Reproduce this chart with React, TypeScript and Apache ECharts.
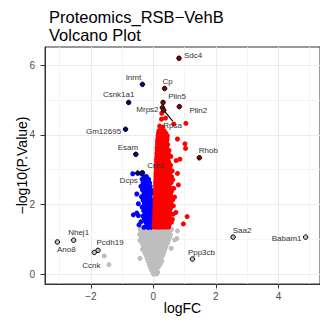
import { useEffect, useRef } from "react";
import * as echarts from "echarts";

// ---- data (logFC, -log10(P.Value)) ----
const upPoints: [number, number][] = [
  [0.18, 4.12], [0.26, 4.12], [0.34, 4.12],
  [0.16, 4.05], [0.24, 4.05], [0.31, 4.05], [0.4, 4.05],
  [0.15, 3.97], [0.22, 3.97], [0.3, 3.97], [0.38, 3.97], [0.45, 3.97],
  [0.14, 3.88], [0.21, 3.88], [0.29, 3.88], [0.36, 3.88], [0.44, 3.88], [0.77, 3.88],
  [0.13, 3.8], [0.2, 3.8], [0.28, 3.8], [0.35, 3.8], [0.42, 3.8],
  [0.13, 3.72], [0.21, 3.72], [0.29, 3.72], [0.37, 3.72], [0.46, 3.72], [1.01, 3.74],
  [0.12, 3.63], [0.2, 3.63], [0.27, 3.63], [0.35, 3.63], [0.43, 3.63], [1.03, 3.61],
  [0.12, 3.55], [0.19, 3.55], [0.26, 3.55], [0.34, 3.55], [0.41, 3.55], [0.5, 3.55],
  [0.11, 3.46], [0.18, 3.46], [0.26, 3.46], [0.33, 3.46], [0.4, 3.46], [0.48, 3.46],
  [0.11, 3.38], [0.18, 3.38], [0.25, 3.38], [0.32, 3.38], [0.39, 3.38], [0.47, 3.38], [0.56, 3.38],
  [0.1, 3.3], [0.17, 3.3], [0.24, 3.3], [0.31, 3.3], [0.38, 3.3], [0.46, 3.3], [0.85, 3.3],
  [0.1, 3.22], [0.17, 3.22], [0.24, 3.22], [0.32, 3.22], [0.4, 3.22], [0.49, 3.22], [0.73, 3.26],
  [0.09, 3.13], [0.16, 3.13], [0.23, 3.13], [0.3, 3.13], [0.37, 3.13], [0.45, 3.13], [0.55, 3.13],
  [0.09, 3.05], [0.16, 3.05], [0.23, 3.05], [0.3, 3.05], [0.38, 3.05], [0.46, 3.05], [0.53, 3.05],
  [0.09, 2.96], [0.15, 2.96], [0.22, 2.96], [0.29, 2.96], [0.36, 2.96], [0.43, 2.96], [0.51, 2.96], [0.6, 2.96],
  [0.08, 2.88], [0.15, 2.88], [0.22, 2.88], [0.29, 2.88], [0.36, 2.88], [0.44, 2.88], [0.52, 2.88], [0.77, 2.89],
  [0.08, 2.8], [0.14, 2.8], [0.21, 2.8], [0.28, 2.8], [0.35, 2.8], [0.42, 2.8], [0.5, 2.8], [0.58, 2.8],
  [0.08, 2.71], [0.14, 2.71], [0.21, 2.71], [0.28, 2.71], [0.35, 2.71], [0.43, 2.71], [0.52, 2.71], [0.62, 2.71],
  [0.07, 2.63], [0.14, 2.63], [0.2, 2.63], [0.27, 2.63], [0.34, 2.63], [0.41, 2.63], [0.49, 2.63], [0.57, 2.63],
  [0.07, 2.55], [0.13, 2.55], [0.2, 2.55], [0.27, 2.55], [0.34, 2.55], [0.42, 2.55], [0.5, 2.55], [0.8, 2.56],
  [0.07, 2.46], [0.13, 2.46], [0.19, 2.46], [0.26, 2.46], [0.33, 2.46], [0.4, 2.46], [0.48, 2.46], [0.56, 2.46], [0.65, 2.46],
  [0.06, 2.38], [0.13, 2.38], [0.19, 2.38], [0.26, 2.38], [0.33, 2.38], [0.41, 2.38], [0.49, 2.38], [0.58, 2.38],
  [0.06, 2.3], [0.12, 2.3], [0.19, 2.3], [0.25, 2.3], [0.32, 2.3], [0.39, 2.3], [0.47, 2.3], [0.55, 2.3],
  [0.06, 2.21], [0.12, 2.21], [0.18, 2.21], [0.25, 2.21], [0.32, 2.21], [0.4, 2.21], [0.48, 2.21], [0.57, 2.21], [0.68, 2.21],
  [0.05, 2.13], [0.12, 2.13], [0.18, 2.13], [0.24, 2.13], [0.31, 2.13], [0.38, 2.13], [0.46, 2.13], [0.54, 2.13], [0.62, 2.13],
  [0.05, 2.05], [0.11, 2.05], [0.18, 2.05], [0.24, 2.05], [0.31, 2.05], [0.39, 2.05], [0.47, 2.05], [0.56, 2.05],
  [0.05, 1.96], [0.11, 1.96], [0.17, 1.96], [0.24, 1.96], [0.3, 1.96], [0.37, 1.96], [0.45, 1.96], [0.53, 1.96], [0.64, 1.96],
  [0.05, 1.88], [0.11, 1.88], [0.17, 1.88], [0.23, 1.88], [0.3, 1.88], [0.38, 1.88], [0.46, 1.88], [0.55, 1.88],
  [0.04, 1.8], [0.1, 1.8], [0.17, 1.8], [0.23, 1.8], [0.29, 1.8], [0.36, 1.8], [0.44, 1.8], [0.52, 1.8], [0.72, 1.77],
  [0.04, 1.72], [0.1, 1.72], [0.16, 1.72], [0.23, 1.72], [0.3, 1.72], [0.37, 1.72], [0.45, 1.72], [0.54, 1.72], [0.63, 1.72],
  [0.04, 1.65], [0.1, 1.65], [0.16, 1.65], [0.22, 1.65], [0.29, 1.65], [0.36, 1.65], [0.43, 1.65], [0.51, 1.65], [1.08, 1.65],
  [0.04, 1.57], [0.1, 1.57], [0.16, 1.57], [0.22, 1.57], [0.29, 1.57], [0.36, 1.57], [0.44, 1.57], [0.53, 1.57], [0.61, 1.57],
  [0.03, 1.49], [0.09, 1.49], [0.15, 1.49], [0.22, 1.49], [0.28, 1.49], [0.35, 1.49], [0.42, 1.49], [0.5, 1.49], [0.58, 1.49],
  [0.03, 1.42], [0.09, 1.42], [0.15, 1.42], [0.21, 1.42], [0.28, 1.42], [0.35, 1.42], [0.43, 1.42], [0.51, 1.42], [0.96, 1.44],
  [0.03, 1.35], [0.09, 1.35], [0.15, 1.35], [0.21, 1.35], [0.27, 1.35], [0.34, 1.35], [0.41, 1.35], [0.49, 1.35],
  [0.26, 4.45], [0.39, 4.48], [0.27, 4.62], [0.65, 4.31], [1.04, 4.33], [0.2, 4.25], [0.3, 4.22],
];

const downPoints: [number, number][] = [
  [-0.66, 2.88], [-0.38, 2.88],
  [-0.3, 2.8], [-0.22, 2.8],
  [-0.36, 2.72], [-0.27, 2.72], [-0.15, 2.72],
  [-0.33, 2.62], [-0.24, 2.62], [-0.12, 2.62],
  [-0.4, 2.52], [-0.3, 2.52], [-0.2, 2.52], [-0.1, 2.52],
  [-0.35, 2.42], [-0.26, 2.42], [-0.17, 2.42], [-0.08, 2.42],
  [-0.53, 2.3], [-0.3, 2.32], [-0.22, 2.32], [-0.13, 2.32], [-0.06, 2.32],
  [-0.38, 2.22], [-0.27, 2.22], [-0.19, 2.22], [-0.1, 2.22],
  [-0.33, 2.12], [-0.24, 2.12], [-0.15, 2.12], [-0.06, 2.12],
  [-0.48, 2.02], [-0.29, 2.02], [-0.2, 2.02], [-0.11, 2.02], [-0.04, 2.02],
  [-0.36, 1.92], [-0.26, 1.92], [-0.17, 1.92], [-0.08, 1.92],
  [-0.31, 1.82], [-0.22, 1.82], [-0.13, 1.82], [-0.05, 1.82],
  [-0.53, 1.75], [-0.27, 1.74], [-0.18, 1.74], [-0.09, 1.74],
  [-0.64, 1.7], [-0.48, 1.68], [-0.33, 1.66], [-0.23, 1.66], [-0.12, 1.66], [-0.04, 1.66],
  [-0.29, 1.58], [-0.19, 1.58], [-0.09, 1.58],
  [-0.4, 1.5], [-0.25, 1.5], [-0.15, 1.5], [-0.06, 1.5],
  [-0.46, 1.41], [-0.21, 1.41], [-0.11, 1.41], [-0.03, 1.41],
  [-0.3, 1.34], [-0.17, 1.34], [-0.08, 1.34],
];

const nsPoints: [number, number][] = [
  [-0.42, 1.3], [-0.33, 1.3], [-0.24, 1.3], [-0.15, 1.3], [-0.06, 1.3], [0.03, 1.3], [0.12, 1.3], [0.21, 1.3], [0.3, 1.3], [0.39, 1.3], [0.48, 1.3], [0.58, 1.28],
  [-0.4, 1.22], [-0.31, 1.22], [-0.22, 1.22], [-0.13, 1.22], [-0.04, 1.22], [0.05, 1.22], [0.14, 1.22], [0.23, 1.22], [0.32, 1.22], [0.41, 1.22], [0.51, 1.22], [0.77, 1.24],
  [-0.44, 1.13], [-0.35, 1.13], [-0.26, 1.13], [-0.17, 1.13], [-0.08, 1.13], [0.01, 1.13], [0.1, 1.13], [0.19, 1.13], [0.28, 1.13], [0.37, 1.13], [0.46, 1.13], [0.55, 1.13],
  [-0.38, 1.05], [-0.29, 1.05], [-0.2, 1.05], [-0.11, 1.05], [-0.02, 1.05], [0.07, 1.05], [0.16, 1.05], [0.25, 1.05], [0.34, 1.05], [0.43, 1.05], [0.52, 1.05], [0.75, 1.02],
  [-0.43, 0.97], [-0.33, 0.96], [-0.24, 0.96], [-0.15, 0.96], [-0.06, 0.96], [0.03, 0.96], [0.12, 0.96], [0.21, 0.96], [0.3, 0.96], [0.39, 0.96], [0.48, 0.96], [0.68, 0.98],
  [-0.36, 0.88], [-0.27, 0.88], [-0.18, 0.88], [-0.09, 0.88], [0.0, 0.88], [0.09, 0.88], [0.18, 0.88], [0.27, 0.88], [0.36, 0.88], [0.45, 0.88],
  [-0.32, 0.79], [-0.23, 0.79], [-0.14, 0.79], [-0.05, 0.79], [0.04, 0.79], [0.13, 0.79], [0.22, 0.79], [0.31, 0.79], [0.4, 0.79], [0.57, 0.74],
  [-0.35, 0.71], [-0.26, 0.71], [-0.17, 0.71], [-0.08, 0.71], [0.01, 0.71], [0.1, 0.71], [0.19, 0.71], [0.28, 0.71], [0.37, 0.71],
  [-0.28, 0.62], [-0.19, 0.62], [-0.1, 0.62], [-0.01, 0.62], [0.08, 0.62], [0.17, 0.62], [0.26, 0.62], [0.34, 0.62],
  [-0.24, 0.54], [-0.15, 0.54], [-0.06, 0.54], [0.03, 0.54], [0.12, 0.54], [0.21, 0.54], [0.3, 0.54],
  [-0.2, 0.45], [-0.11, 0.45], [-0.02, 0.45], [0.07, 0.45], [0.16, 0.45], [0.25, 0.45], [-0.43, 0.45],
  [-0.17, 0.37], [-0.08, 0.37], [0.01, 0.37], [0.1, 0.37], [0.19, 0.37], [0.27, 0.37],
  [-0.13, 0.28], [-0.04, 0.28], [0.05, 0.28], [0.14, 0.28], [0.22, 0.28],
  [-0.1, 0.2], [-0.01, 0.2], [0.08, 0.2], [0.16, 0.2],
  [-0.06, 0.12], [0.03, 0.12], [0.11, 0.12],
  [-0.02, 0.05], [0.07, 0.05], [0.14, 0.05],
  [0.01, 0.0], [0.1, 0.0],
  [-1.57, 0.52], [-1.42, 0.27],
];

const geneNames = ["Sdc4", "Inmt", "Cp", "Csnk1a1", "Plin5", "Plin2", "Mrps2", "Rpsa", "Rhob", "Gm12695", "Esam", "Cnst", "Dcps", "Nhej1", "Ano8", "Pcdh19", "Ccnk", "Saa2", "Babam1", "Ppp3cb"];
const geneLogFC = [0.82, -0.35, 0.36, -0.79, 0.31, 0.83, 0.29, 0.33, 1.47, -0.89, -0.56, -0.35, -0.5, -2.55, -3.07, -1.77, -1.89, 2.55, 4.87, 1.25];
const geneNegLog10P = [6.2, 5.45, 5.33, 4.93, 4.93, 4.81, 4.78, 4.71, 3.34, 4.16, 3.44, 2.91, 2.9, 0.97, 0.92, 0.68, 0.62, 1.06, 1.06, 0.43];
const geneGroup = ["up", "down", "up", "down", "up", "up", "up", "up", "up", "down", "down", "down", "down", "ns", "ns", "ns", "ns", "ns", "ns", "ns"];

// label placement (pixel offsets from point to label centre)
const labelOffsets: Record<string, [number, number]> = {
  Sdc4: [14, -3], Inmt: [-9, -7], Cp: [3, -7], Csnk1a1: [-10, -8], Plin5: [14, -6],
  Plin2: [19, 4], Mrps2: [-15, 2], Rpsa: [9, 15], Rhob: [9, -7], Gm12695: [-22, 2],
  Esam: [-8, -7], Cnst: [13, -7], Dcps: [-9, 7], Nhej1: [5, -8], Ano8: [9, 8],
  Pcdh19: [12, -8], Ccnk: [-3, 13], Saa2: [9, -7], Babam1: [-19, 1], Ppp3cb: [9, -7],
};

const xMajorTicks = [-2, 0, 2, 4];
const yMajorTicks = [0, 2, 4, 6];
const xMinorTicks = [-3, -1, 1, 3, 5];
const yMinorTicks = [1, 3, 5];

const FONT = "'Liberation Sans', Arial, Helvetica, sans-serif";
const groupFill: Record<string, string> = { up: "#8B0000", down: "#00008B", ns: "#BEBEBE" };

export default function App() {
  const ref = useRef<HTMLDivElement>(null);
  useEffect(() => {
    if (!ref.current) return;
    const chart = echarts.init(ref.current, undefined, { renderer: "svg" });
    const minus = (v: number) => (v < 0 ? "\u2212" + Math.abs(v) : String(v));
    const gridLines = [
      ...xMinorTicks.map((v) => ({ xAxis: v, lineStyle: { color: "#F3F3F3", width: 0.8 } })),
      ...yMinorTicks.map((v) => ({ yAxis: v, lineStyle: { color: "#F3F3F3", width: 0.8 } })),
      ...xMajorTicks.map((v) => ({ xAxis: v, lineStyle: { color: "#EBEBEB", width: 1.1 } })),
      ...yMajorTicks.map((v) => ({ yAxis: v, lineStyle: { color: "#EBEBEB", width: 1.1 } })),
    ];
    const labeled = geneNames.map((n, i) => ({
      name: n,
      value: [geneLogFC[i], geneNegLog10P[i]],
      itemStyle: { color: groupFill[geneGroup[i]], borderColor: "#000", borderWidth: 1, opacity: 1 },
      labelLine: n === "Rpsa" ? { show: true, lineStyle: { color: "#000", width: 1.2 } } : { show: false },
    }));
    chart.setOption({
      animation: false,
      title: {
        text: "Proteomics_RSB\u2212VehB\nVolcano Plot",
        left: 44,
        top: 3,
        textStyle: { fontFamily: FONT, fontSize: 16.5, fontWeight: "normal", color: "#000", lineHeight: 18 },
      },
      grid: { left: 45, top: 47, width: 285, height: 237, show: true, borderColor: "#333333", borderWidth: 1, backgroundColor: "transparent" },
      xAxis: {
        type: "value",
        min: -3.466,
        max: 5.33,
        name: "logFC",
        nameLocation: "middle",
        nameGap: 17,
        nameMoveOverlap: false,
        nameTextStyle: { fontFamily: FONT, fontSize: 14, color: "#000", verticalAlign: "top" },
        axisLine: { show: true, onZero: false, lineStyle: { color: "#333333", width: 1 } },
        axisTick: { show: true, length: 4.5, customValues: xMajorTicks, lineStyle: { color: "#333333" } },
        axisLabel: { customValues: xMajorTicks, formatter: minus, fontFamily: FONT, fontSize: 10, color: "#4D4D4D", margin: 7 },
        splitLine: { show: false },
      },
      yAxis: {
        type: "value",
        min: -0.287,
        max: 6.523,
        name: "\u2212log10(P.Value)",
        nameLocation: "middle",
        nameGap: 16,
        nameMoveOverlap: false,
        nameTextStyle: { fontFamily: FONT, fontSize: 14, color: "#000" },
        axisLine: { show: true, onZero: false, lineStyle: { color: "#333333", width: 1 } },
        axisTick: { show: true, length: 4.5, customValues: yMajorTicks, lineStyle: { color: "#333333" } },
        axisLabel: { customValues: yMajorTicks, formatter: minus, fontFamily: FONT, fontSize: 10, color: "#4D4D4D", margin: 10 },
        splitLine: { show: false },
      },
      series: [
        {
          type: "scatter",
          data: [],
          silent: true,
          z: 0,
          markLine: { silent: true, z: 0, symbol: ["none", "none"], label: { show: false }, lineStyle: { type: "solid" }, data: gridLines },
        },
        { type: "scatter", data: nsPoints, symbolSize: 5, itemStyle: { color: "#BEBEBE", opacity: 1 }, z: 2, silent: true },
        { type: "scatter", data: downPoints, symbolSize: 5, itemStyle: { color: "#0000FF", opacity: 1 }, z: 3, silent: true },
        { type: "scatter", data: upPoints, symbolSize: 5, itemStyle: { color: "#FF0000", opacity: 1 }, z: 4, silent: true },
        {
          type: "scatter",
          data: labeled,
          symbolSize: 4.5,
          z: 5,
          silent: true,
          label: {
            show: true,
            position: "inside",
            formatter: "{b}",
            fontFamily: FONT,
            fontSize: 8,
            color: "#333333",
            textBorderWidth: 0,
            textBorderColor: "transparent",
          },
          labelLayout: (p: any) => {
            const off = labelOffsets[geneNames[p.dataIndex]] || [0, 0];
            return { dx: off[0], dy: off[1] };
          },
        },
      ],
    });
    return () => chart.dispose();
  }, []);
  return <div ref={ref} style={{ position: "fixed", left: 0, top: 0, width: 320, height: 328, background: "#fff" }} />;
}
